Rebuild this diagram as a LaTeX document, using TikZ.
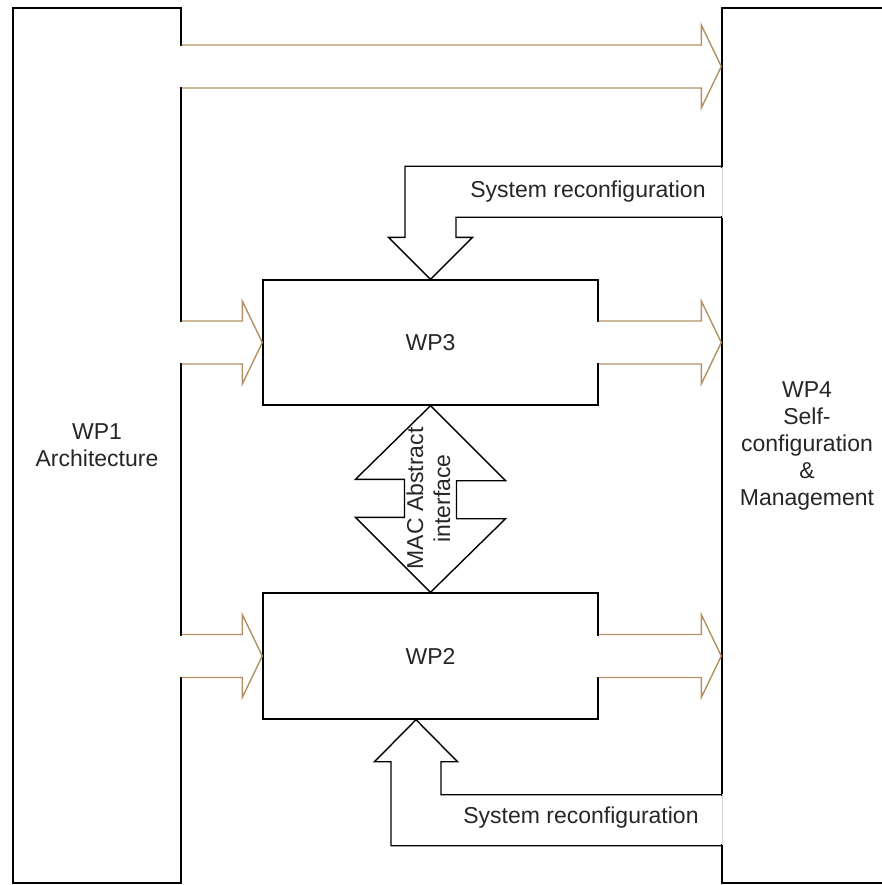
\documentclass[tikz,border=0pt]{standalone}
\usepackage{fontspec}
\setmainfont{Liberation Sans}
\usetikzlibrary{calc}
\definecolor{arrowbrown}{RGB}{180,145,100}
\newcommand{\harrow}[2]{%
  \fill[white] let \p1=(#1) in (\x1-1.5pt,\y1+20.5pt) rectangle (\x1+1.5pt,\y1-20.5pt);
  \draw[brownline] let \p1=(#1), \p2=(#2) in
    (\x1,\y1+21.5pt) -- (\x2-20pt,\y1+21.5pt) -- (\x2-20pt,\y1+41.5pt) -- (\x2,\y1)
    -- (\x2-20pt,\y1-41.5pt) -- (\x2-20pt,\y1-21.5pt) -- (\x1,\y1-21.5pt);
}
\begin{document}
\begin{tikzpicture}[x=1pt,y=-1pt,
  font=\fontsize{23}{27}\selectfont,
  box/.style={draw=black, line width=1.4pt, rectangle, inner sep=0pt, align=center, text=black!85},
  brownline/.style={draw=arrowbrown, line width=1.4pt, line join=miter},
  blackline/.style={draw=black, line width=1.4pt, line join=miter},
  lbl/.style={text=black!85, inner sep=0pt, align=center}]
\useasboundingbox (0,0) rectangle (882,885);

% boxes
\node[box, minimum width=168pt, minimum height=875pt] (wp1) at (97,445.5) {WP1\\Architecture};
\node[box, minimum width=170pt, minimum height=875pt] (wp4) at (807,445.5) {WP4\\Self-\\configuration\\\&\\Management};
\node[box, minimum width=335pt, minimum height=125pt] (wp3) at (430.5,342.5) {WP3};
\node[box, minimum width=335pt, minimum height=126pt] (wp2) at (430.5,656) {WP2};

% brown block arrows
\coordinate (a1) at (0,66.5);
\harrow{wp1.east |- a1}{wp4.west |- a1}
\harrow{wp1.east |- wp3.west}{wp3.west}
\harrow{wp3.east}{wp4.west |- wp3.east}
\harrow{wp1.east |- wp2.west}{wp2.west}
\harrow{wp2.east}{wp4.west |- wp2.east}

% gaps in WP4 edge
\fill[white] (720.5,168.5) rectangle (723.5,216.5);
\draw[gray!35, line width=1pt] (722,167) -- (722,218);
\fill[white] (720.5,795.5) rectangle (723.5,843.5);
\draw[gray!35, line width=1pt] (722,794) -- (722,845);

% top system reconfiguration arrow
\draw[blackline] let \p1=(wp3.north), \p2=(wp4.west) in
  (\x2,\y1+113pt) -- (\x1-25.5pt,\y1+113pt) -- (\x1-25.5pt,\y1+42pt) -- (\x1-42pt,\y1+42pt)
  -- (\x1,\y1) -- (\x1+42pt,\y1+42pt) -- (\x1+25.5pt,\y1+42pt) -- (\x1+25.5pt,\y1+62pt) -- (\x2,\y1+62pt);
\node[lbl] (rt) at (588,192) {System reconfiguration};

% bottom system reconfiguration arrow
\draw[blackline] let \p1=([xshift=-14.5pt]wp2.south), \p2=(wp4.west) in
  (\x2,\y1-75pt) -- (\x1+25pt,\y1-75pt) -- (\x1+25pt,\y1-42pt) -- (\x1+41.5pt,\y1-42pt)
  -- (\x1,\y1) -- (\x1-41.5pt,\y1-42pt) -- (\x1-25pt,\y1-42pt) -- (\x1-25pt,\y1-126pt) -- (\x2,\y1-126pt);
\node[lbl] (rb) at (581,818) {System reconfiguration};

% MAC double arrow
\draw[blackline] (wp3.south) -- ++(75,75) -- ++(-49,0) -- ++(0,38) -- ++(49,0) -- (wp2.north)
  -- ++(-75,-75) -- ++(49,0) -- ++(0,-38) -- ++(-49,0) -- cycle;
\node[lbl, rotate=90] (mac) at (428.5,498.5) {MAC Abstract\\interface};
\end{tikzpicture}
\end{document}
